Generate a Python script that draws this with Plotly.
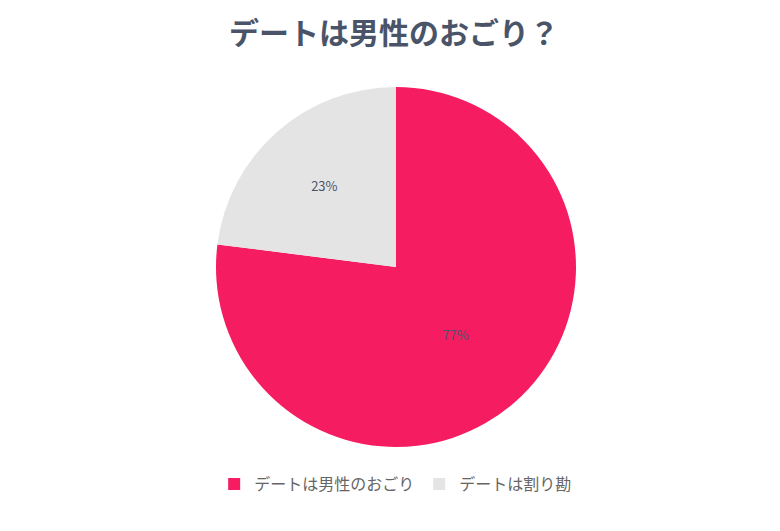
import plotly.graph_objects as go

labels = ["デートは男性のおごり", "デートは割り勘"]
values = [77, 23]
colors = ["#F61C62", "#E4E4E4"]

W, H = 780, 531

fig = go.Figure()

fig.add_trace(go.Pie(
    labels=labels,
    values=values,
    sort=False,
    direction="clockwise",
    rotation=0,
    marker=dict(colors=colors, line=dict(width=0)),
    textinfo="percent",
    texttemplate="%{percent:.0%}",
    textposition="inside",
    insidetextfont=dict(color="#4A5468", size=13),
    domain=dict(x=[208 / W, 568 / W], y=[1 - 439 / H, 1 - 79 / H]),
))

fig.update_layout(
    width=W,
    height=H,
    paper_bgcolor="white",
    plot_bgcolor="white",
    font=dict(family="Noto Sans CJK JP, Noto Sans, sans-serif"),
    title=dict(
        text="<b>デートは男性のおごり？</b>",
        x=386 / W,
        xanchor="center",
        y=1 - 25 / H,
        yanchor="middle",
        font=dict(size=30, color="#4A5468"),
    ),
    margin=dict(l=0, r=0, t=0, b=0),
    showlegend=True,
    legend=dict(
        orientation="h",
        x=0.497,
        xanchor="center",
        y=1 - 476 / H,
        yanchor="middle",
        font=dict(size=16, color="#666666"),
        itemwidth=30,
    ),
)

fig.write_html("out.html")
